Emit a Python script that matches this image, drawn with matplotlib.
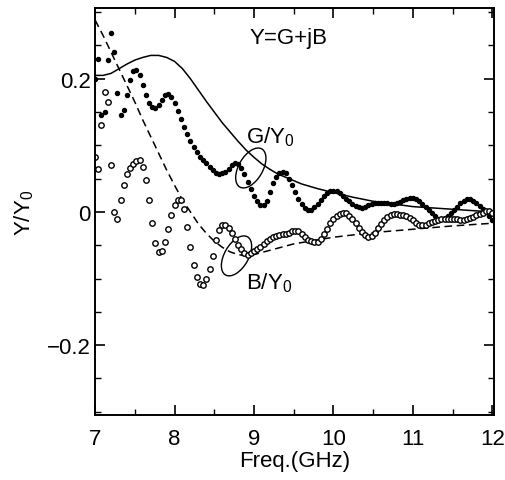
import numpy as np
import matplotlib.pyplot as plt
from matplotlib.patches import Ellipse
from matplotlib.transforms import ScaledTranslation
from matplotlib.ticker import MultipleLocator, FuncFormatter

plt.rcParams['font.family'] = ['Liberation Sans', 'DejaVu Sans']
plt.rcParams['mathtext.default'] = 'regular'

# measured points, 0.04 GHz apart from 7.00 to 12.00
freq = np.round(np.arange(7.0, 12.0001, 0.04), 2)

g_meas = [
    0.20, 0.23, 0.145, 0.15, 0.228, 0.268, 0.24, 0.178, 0.146, 0.153,
    0.175, 0.198, 0.211, 0.213, 0.205, 0.19, 0.175, 0.163, 0.157, 0.156,
    0.16, 0.168, 0.175, 0.177, 0.173, 0.163, 0.152, 0.14, 0.128, 0.117,
    0.107, 0.098, 0.09, 0.083, 0.078, 0.073, 0.068, 0.063, 0.059, 0.057,
    0.058, 0.06, 0.064, 0.07, 0.074, 0.072, 0.066, 0.057, 0.045, 0.034,
    0.024, 0.016, 0.011, 0.01, 0.016, 0.03, 0.043, 0.053, 0.058, 0.06,
    0.058, 0.05, 0.04, 0.03, 0.02, 0.012, 0.006, 0.003, 0.003, 0.007,
    0.012, 0.018, 0.024, 0.028, 0.031, 0.032, 0.031, 0.028, 0.024, 0.02,
    0.016, 0.012, 0.009, 0.007, 0.006, 0.008, 0.011, 0.012, 0.013, 0.013,
    0.013, 0.013, 0.013, 0.012, 0.012, 0.013, 0.015, 0.018, 0.02, 0.021,
    0.021, 0.019, 0.016, 0.012, 0.008, 0.003, -0.002, -0.006, -0.01, -0.011,
    -0.009, -0.006, -0.002, 0.003, 0.008, 0.013, 0.017, 0.02, 0.02, 0.017,
    0.013, 0.009, 0.005, 0.0, -0.006, -0.012,
]

b_meas = [
    0.082, 0.065, 0.13, 0.18, 0.165, 0.07, 0.0, -0.01, 0.018, 0.04,
    0.057, 0.066, 0.072, 0.077, 0.078, 0.068, 0.048, 0.018, -0.017, -0.047,
    -0.06, -0.058, -0.045, -0.025, -0.005, 0.011, 0.018, 0.018, 0.005, -0.022,
    -0.053, -0.08, -0.098, -0.108, -0.109, -0.101, -0.086, -0.066, -0.042, -0.027,
    -0.02, -0.019, -0.024, -0.032, -0.041, -0.05, -0.056, -0.061, -0.065, -0.062,
    -0.058, -0.055, -0.052, -0.048, -0.044, -0.041, -0.038, -0.036, -0.034, -0.033,
    -0.033, -0.031, -0.029, -0.028, -0.029, -0.033, -0.038, -0.042, -0.044, -0.045,
    -0.045, -0.04, -0.033, -0.025, -0.017, -0.01, -0.006, -0.003, -0.002, -0.002,
    -0.006, -0.011, -0.017, -0.024, -0.03, -0.035, -0.037, -0.036, -0.031, -0.024,
    -0.018, -0.012, -0.007, -0.004, -0.003, -0.003, -0.004, -0.005, -0.006, -0.009,
    -0.012, -0.016, -0.019, -0.02, -0.019, -0.017, -0.015, -0.013, -0.012, -0.011,
    -0.011, -0.01, -0.01, -0.01, -0.011, -0.012, -0.012, -0.011, -0.009, -0.007,
    -0.005, -0.003, -0.001, 0.001, 0.002, -0.002,
]

# smooth (calculated) curves
g_fit_f = [7.0, 7.1, 7.2, 7.3, 7.4, 7.5, 7.6, 7.7, 7.8, 7.9, 8.0, 8.1, 8.2, 8.3,
           8.4, 8.5, 8.6, 8.7, 8.8, 8.9, 9.0, 9.1, 9.2, 9.3, 9.4, 9.5, 9.6, 9.8,
           10.0, 10.25, 10.5, 10.75, 11.0, 11.25, 11.5, 11.75, 12.0]
g_fit = [0.205, 0.205, 0.208, 0.215, 0.222, 0.228, 0.232, 0.235, 0.235, 0.232,
         0.226, 0.215, 0.2, 0.183, 0.166, 0.15, 0.134, 0.12, 0.106, 0.093,
         0.082, 0.072, 0.064, 0.057, 0.052, 0.047, 0.042, 0.035, 0.029, 0.022,
         0.016, 0.012, 0.008, 0.006, 0.004, 0.002, 0.0]

b_fit_f = [7.0, 7.1, 7.2, 7.3, 7.4, 7.5, 7.6, 7.7, 7.8, 7.9, 8.0, 8.1, 8.2, 8.3,
           8.4, 8.5, 8.6, 8.7, 8.8, 8.9, 9.0, 9.25, 9.5, 9.75, 10.0, 10.5, 11.0,
           11.5, 12.0]
b_fit = [0.288, 0.265, 0.24, 0.215, 0.19, 0.165, 0.138, 0.113, 0.088, 0.063,
         0.04, 0.018, 0.0, -0.018, -0.032, -0.044, -0.053, -0.06, -0.064, -0.066,
         -0.064, -0.056, -0.048, -0.043, -0.038, -0.031, -0.026, -0.021, -0.017]

fig = plt.figure(figsize=(5.06, 4.81), dpi=100)
ax = fig.add_axes([0.188, 0.135, 0.788, 0.846])

ax.plot(g_fit_f, g_fit, '-', color='black', lw=1.1)
ax.plot(b_fit_f, b_fit, '--', color='black', lw=1.1, dashes=(5, 3))
ax.plot(freq, g_meas, 'o', color='black', ms=2.9, mec='black')
ax.plot(freq, b_meas, 'o', mfc='white', mec='black', ms=3.9, mew=1.0)

# labels with the ellipses pointing at the curves
fs = 16
ax.text(8.94, 0.262, 'Y=G+jB', fontsize=fs, va='center')
ax.text(8.9, 0.114, 'G/Y$_0$', fontsize=fs, va='center')
ax.text(8.9, -0.106, 'B/Y$_0$', fontsize=fs, va='center')
for cx, cy in [(8.96, 0.066), (8.78, -0.066)]:
    ax.add_patch(Ellipse((0, 0), 0.24, 0.44, angle=-30, fill=False, lw=1.0,
                         ec='black',
                         transform=fig.dpi_scale_trans + ScaledTranslation(cx, cy, ax.transData)))

ax.set_xlim(7, 12.02)
ax.set_ylim(-0.305, 0.306)
ax.xaxis.set_major_locator(MultipleLocator(1))
ax.xaxis.set_minor_locator(MultipleLocator(0.5))
ax.yaxis.set_major_locator(MultipleLocator(0.2))
ax.yaxis.set_minor_locator(MultipleLocator(0.05))
ax.yaxis.set_major_formatter(FuncFormatter(
    lambda v, p: '0' if abs(v) < 1e-9 else ('%.1f' % v).replace('-', '\u2212')))
ax.tick_params(which='both', direction='in', top=True, right=True, labelsize=fs)
ax.tick_params(axis='x', pad=9)
ax.tick_params(axis='y', pad=3)
ax.tick_params(which='major', length=7, width=1.2)
ax.tick_params(which='minor', length=4, width=1.0)
for s in ax.spines.values():
    s.set_linewidth(1.4)

ax.set_xlabel('Freq.(GHz)', fontsize=fs, labelpad=1)
ax.set_ylabel('Y/Y$_0$', fontsize=fs, labelpad=8)

fig.savefig('out.png', dpi=100)
